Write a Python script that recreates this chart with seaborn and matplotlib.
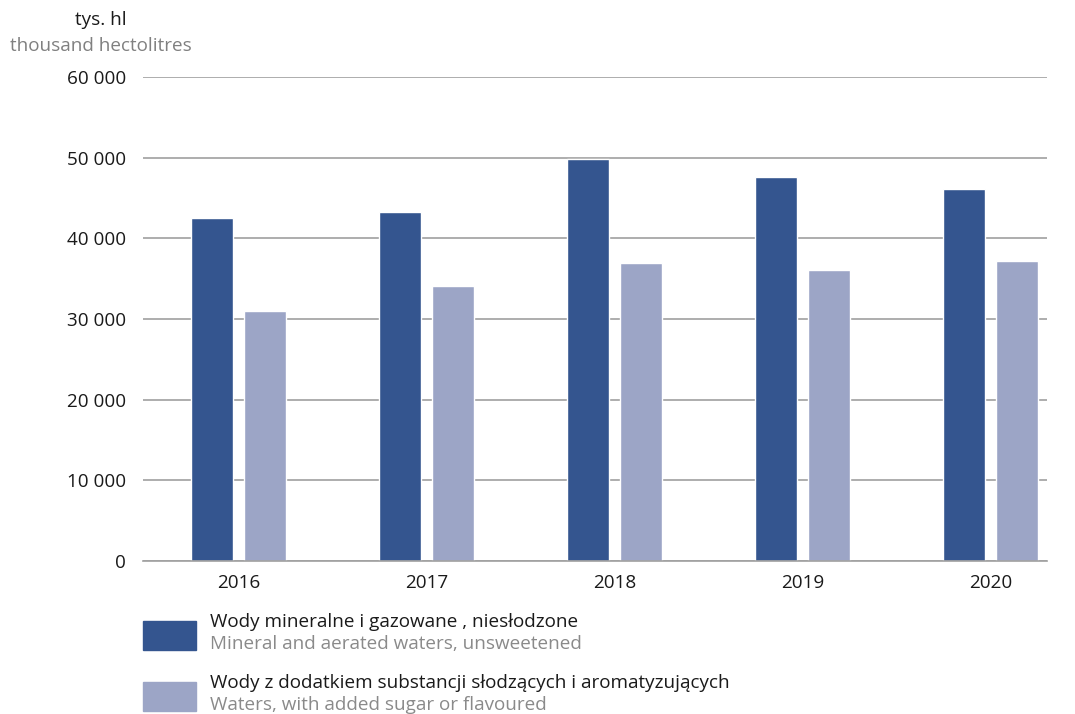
import numpy as np
import pandas as pd
import matplotlib
matplotlib.use("Agg")
import matplotlib.pyplot as plt
import seaborn as sns
from matplotlib.patches import Rectangle

# data (thousand hectolitres)
years = ["2016", "2017", "2018", "2019", "2020"]
mineral = [42500, 43300, 49800, 47600, 46100]
flavoured = [31000, 34100, 37000, 36100, 37200]

series_pl = ["Wody mineralne i gazowane , niesłodzone",
             "Wody z dodatkiem substancji słodzących i aromatyzujących"]
series_en = ["Mineral and aerated waters, unsweetened",
             "Waters, with added sugar or flavoured"]
colors = ["#34558F", "#9CA5C6"]
yticks = [0, 10000, 20000, 30000, 40000, 50000, 60000]

df = pd.DataFrame({
    "year": years * 2,
    "value": mineral + flavoured,
    "series": [series_pl[0]] * len(years) + [series_pl[1]] * len(years),
})

sns.set_style("white")
plt.rcParams["font.family"] = ["Open Sans", "DejaVu Sans"]
FS = 13.6

W, H = 1075, 714
fig = plt.figure(figsize=(W / 100, H / 100), dpi=100)
ax = fig.add_axes([143 / W, 1 - 561 / H, (1047 - 143) / W, (561 - 77) / H])

sns.barplot(data=df, x="year", y="value", hue="series", palette=colors,
            width=0.564, gap=0.21, ax=ax, legend=False, saturation=1)

ax.set_ylim(0, 60000)
ax.set_xlim(-0.508, 4.30)
ax.set_yticks(yticks)
ax.set_yticklabels([f"{v:,}".replace(",", " ") for v in yticks], fontsize=FS, color="#1a1a1a")
ax.tick_params(axis="x", labelsize=FS, labelcolor="#1a1a1a", length=0, pad=9)
ax.tick_params(axis="y", length=0, pad=12)
ax.set_xlabel("")
ax.set_ylabel("")
ax.grid(axis="y", color="#A0A0A0", linewidth=1.2)
ax.set_axisbelow(True)
for s in ["top", "right", "left"]:
    ax.spines[s].set_visible(False)
ax.spines["bottom"].set_color("#A0A0A0")
ax.spines["bottom"].set_linewidth(1.2)

# unit label
fig.text(101 / W, 1 - 20 / H, "tys. hl", ha="center", va="center", fontsize=FS, color="#1a1a1a")
fig.text(101 / W, 1 - 46 / H, "thousand hectolitres", ha="center", va="center", fontsize=FS, color="#808080")

# legend drawn by hand (two-colour text)
for i, (pl, en, c) in enumerate(zip(series_pl, series_en, colors)):
    top = 621 + i * 61
    fig.add_artist(Rectangle((143 / W, 1 - (top + 29) / H), 53 / W, 29 / H,
                             transform=fig.transFigure, color=c))
    fig.text(210 / W, 1 - (top + 1) / H, pl, ha="left", va="center", fontsize=FS, color="#1a1a1a")
    fig.text(210 / W, 1 - (top + 23) / H, en, ha="left", va="center", fontsize=FS, color="#8a8a8a")

fig.savefig("out.png", dpi=100)
